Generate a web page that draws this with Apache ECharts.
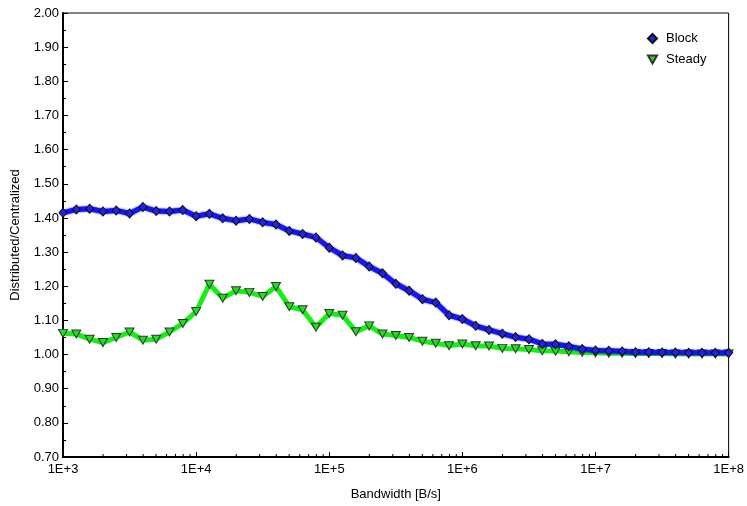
<!DOCTYPE html>
<html>
<head>
<meta charset="utf-8">
<script src="https://cdn.jsdelivr.net/npm/echarts@6/dist/echarts.min.js"></script>
<style>
  html, body { margin: 0; padding: 0; background: #fff; }
  #chart { width: 747px; height: 506px; }
</style>
</head>
<body>
<div id="chart"></div>
<script>
// Bandwidth sample points (B/s), ten per decade
const bandwidth = [
  1000, 1259, 1585, 1995, 2512, 3162, 3981, 5012, 6310, 7943,
  10000, 12589, 15849, 19953, 25119, 31623, 39811, 50119, 63096, 79433,
  100000, 125893, 158489, 199526, 251189, 316228, 398107, 501187, 630957, 794328,
  1000000, 1258925, 1584893, 1995262, 2511886, 3162278, 3981072, 5011872, 6309573, 7943282,
  10000000, 12589254, 15848932, 19952623, 25118864, 31622777, 39810717, 50118723, 63095734, 79432823,
  100000000
];

// Distributed / centralized ratio, block scheme
const blockValues = [
  1.415, 1.425, 1.427, 1.419, 1.422, 1.413, 1.432, 1.420, 1.419, 1.423,
  1.405, 1.412, 1.399, 1.392, 1.397, 1.387, 1.381, 1.362, 1.353, 1.343,
  1.313, 1.290, 1.283, 1.258, 1.238, 1.207, 1.187, 1.162, 1.152, 1.115,
  1.104, 1.084, 1.072, 1.061, 1.051, 1.045, 1.031, 1.030, 1.024, 1.016,
  1.012, 1.011, 1.009, 1.007, 1.007, 1.006, 1.006, 1.005, 1.005, 1.005,
  1.005
];

// Distributed / centralized ratio, steady scheme
const steadyValues = [
  1.062, 1.060, 1.045, 1.035, 1.050, 1.066, 1.042, 1.045, 1.066, 1.091,
  1.126, 1.206, 1.165, 1.187, 1.182, 1.170, 1.199, 1.140, 1.131, 1.080,
  1.120, 1.115, 1.067, 1.084, 1.060, 1.056, 1.050, 1.039, 1.033, 1.026,
  1.031, 1.026, 1.025, 1.018, 1.017, 1.015, 1.011, 1.010, 1.008, 1.006,
  1.005, 1.004, 1.004, 1.003, 1.003, 1.003, 1.002, 1.002, 1.002, 1.002,
  1.002
];

const seriesNames = ['Block', 'Steady'];
const xAxisTitle = 'Bandwidth [B/s]';
const yAxisTitle = 'Distributed/Centralized';

// Minor tick positions for the logarithmic x axis (2..9 in every decade)
const xMinorTicks = [];
for (let e = 3; e < 8; e++) {
  for (let m = 2; m <= 9; m++) xMinorTicks.push([m * Math.pow(10, e), 0.7]);
}

const FONT = "'Liberation Sans', Arial, sans-serif";
const downTriangle = 'path://M0,0 L10,0 L5,9 Z';

const chart = echarts.init(document.getElementById('chart'), null, { renderer: 'canvas' });

chart.setOption({
  animation: false,
  backgroundColor: '#ffffff',
  textStyle: { fontFamily: FONT },
  grid: {
    left: 63, right: 16, top: 13, bottom: 49,
    show: true, borderColor: '#000', borderWidth: 1, backgroundColor: 'transparent'
  },
  legend: {
    orient: 'vertical',
    left: 642, top: 27,
    itemWidth: 9, itemHeight: 9, itemGap: 8,
    textStyle: { fontFamily: FONT, fontSize: 13, color: '#000', padding: [0, 0, 0, 4] },
    data: [
      { name: seriesNames[0], icon: 'diamond' },
      { name: seriesNames[1], icon: downTriangle }
    ]
  },
  xAxis: {
    type: 'log',
    logBase: 10,
    min: 1000,
    max: 100000000,
    name: xAxisTitle,
    nameLocation: 'middle',
    nameGap: 31,
    nameTextStyle: { fontFamily: FONT, fontSize: 13, color: '#000' },
    axisLine: { lineStyle: { color: '#000', width: 2 } },
    axisTick: { inside: true, length: 5, lineStyle: { color: '#000', width: 1 } },
    minorTick: { show: false },
    splitLine: { show: false },
    axisLabel: {
      margin: 6,
      fontFamily: FONT, fontSize: 13, color: '#000',
      formatter: function (v) { return '1E+' + Math.round(Math.log10(v)); }
    }
  },
  yAxis: {
    type: 'value',
    min: 0.7,
    max: 2.0,
    interval: 0.1,
    name: yAxisTitle,
    nameLocation: 'middle',
    nameGap: 41,
    nameTextStyle: { fontFamily: FONT, fontSize: 13, color: '#000' },
    axisLine: { show: true, lineStyle: { color: '#000', width: 2 } },
    axisTick: { show: true, inside: true, length: 5, lineStyle: { color: '#000', width: 1 } },
    minorTick: { show: true, splitNumber: 2, length: 3, lineStyle: { color: '#000', width: 1 } },
    splitLine: { show: false },
    axisLabel: {
      margin: 4,
      fontFamily: FONT, fontSize: 13, color: '#000',
      formatter: function (v) { return v.toFixed(2); }
    }
  },
  series: [
    {
      name: seriesNames[0],
      type: 'line',
      data: bandwidth.map((x, i) => [x, blockValues[i]]),
      symbol: 'diamond',
      symbolSize: [8, 9],
      z: 3,
      lineStyle: {
        color: '#1414ff', width: 5,
        shadowColor: 'rgba(0,0,70,0.9)', shadowBlur: 2
      },
      itemStyle: { color: '#2222ee', borderColor: '#111', borderWidth: 1 }
    },
    {
      name: seriesNames[1],
      type: 'line',
      data: bandwidth.map((x, i) => [x, steadyValues[i]]),
      symbol: downTriangle,
      symbolSize: [9, 8],
      z: 2,
      lineStyle: { color: '#14f014', width: 5 },
      itemStyle: { color: '#22dd22', borderColor: '#333', borderWidth: 1 }
    },
    {
      type: 'custom',
      silent: true,
      z: 5,
      data: xMinorTicks,
      encode: { x: 0, y: 1 },
      renderItem: function (params, api) {
        const p = api.coord([api.value(0), api.value(1)]);
        return {
          type: 'line',
          shape: { x1: p[0], y1: p[1], x2: p[0], y2: p[1] - 3 },
          style: { stroke: '#000', lineWidth: 1 }
        };
      }
    }
  ]
});
</script>
</body>
</html>
